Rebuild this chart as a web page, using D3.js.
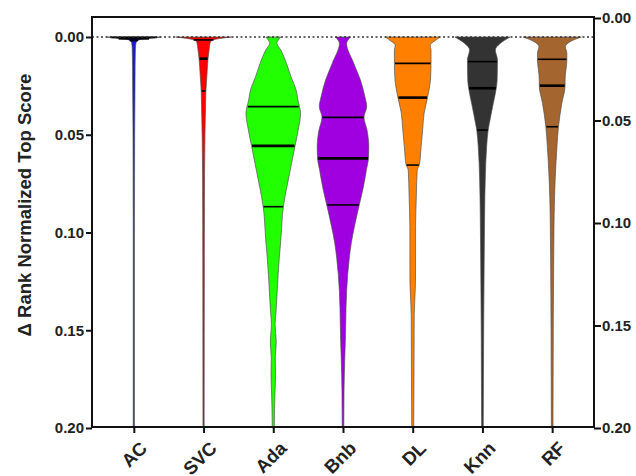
<!DOCTYPE html>
<html>
<head>
<meta charset="utf-8">
<script src="https://cdn.jsdelivr.net/npm/d3@7"></script>
<style>
  body { margin: 0; background: #fff; }
  svg text { font-family: "Liberation Sans", Arial, sans-serif; font-weight: bold; fill: #222; }
</style>
</head>
<body>
<svg id="chart" width="636" height="476"></svg>
<script>
/*
    Classifiers, colours and quartiles
*/
var categories = ["AC", "SVC", "Ada", "Bnb", "DL", "Knn", "RF"];
var colors = ["#1a1ad0", "#ff0000", "#22ff00", "#a000e0", "#ff8000", "#333333", "#a5652f"];
var q1 = [0.0002, 0.0015, 0.0356, 0.0411, 0.0135, 0.0126, 0.0114];
var medians = [0.0007, 0.0111, 0.0557, 0.0621, 0.031, 0.0262, 0.0249];
var q3 = [0.0018, 0.0276, 0.0868, 0.0859, 0.0655, 0.0476, 0.0459];
var yTicks = [0, 0.05, 0.10, 0.15, 0.20];
/*
    Density profiles: [score, relative density]
*/
var acProfile = [[0, 0.9], [0.0008, 0.47], [0.0015, 0.17], [0.003, 0.073], [0.006, 0.053],
    [0.015, 0.043], [0.03, 0.037], [0.05, 0.027], [0.1, 0.02], [0.2, 0.02]];
var svcProfile = [[0, 0.93], [0.0008, 0.53], [0.0018, 0.27], [0.003, 0.22], [0.006, 0.19],
    [0.011, 0.15], [0.015, 0.13], [0.02, 0.11], [0.028, 0.077], [0.035, 0.067], [0.05, 0.047],
    [0.07, 0.033], [0.1, 0.027], [0.2, 0.02]];
var adaProfile = [[0, 0.25], [0.0015, 0.17], [0.0032, 0.12], [0.0066, 0.25], [0.0135, 0.44],
    [0.0203, 0.59], [0.0271, 0.76], [0.0322, 0.82], [0.039, 0.91], [0.0476, 0.83], [0.0561, 0.72],
    [0.0646, 0.61], [0.0731, 0.5], [0.0817, 0.39], [0.0902, 0.31], [0.097, 0.28], [0.106, 0.24],
    [0.113, 0.2], [0.13, 0.13], [0.141, 0.09], [0.147, 0.06], [0.156, 0.1], [0.164, 0.067],
    [0.173, 0.075], [0.182, 0.057], [0.19, 0.043], [0.2, 0.033]];
var bnbProfile = [[0, 0.25], [0.0015, 0.17], [0.0032, 0.12], [0.0135, 0.36], [0.022, 0.58],
    [0.0305, 0.73], [0.0356, 0.79], [0.041, 0.7], [0.0476, 0.8], [0.056, 0.86], [0.062, 0.85],
    [0.068, 0.78], [0.0766, 0.68], [0.086, 0.54], [0.097, 0.38], [0.105, 0.28], [0.113, 0.21],
    [0.13, 0.12], [0.147, 0.09], [0.156, 0.077], [0.164, 0.06], [0.182, 0.033], [0.2, 0.027]];
var dlProfile = [[0, 0.92], [0.0024, 0.7], [0.0041, 0.58], [0.0066, 0.61], [0.0135, 0.61],
    [0.022, 0.59], [0.0305, 0.5], [0.039, 0.38], [0.0476, 0.33], [0.056, 0.28], [0.0655, 0.22],
    [0.068, 0.15], [0.0817, 0.12], [0.097, 0.095], [0.125, 0.093], [0.142, 0.05], [0.17, 0.043],
    [0.2, 0.033]];
var knnProfile = [[0, 0.92], [0.0032, 0.6], [0.0066, 0.43], [0.0118, 0.5], [0.022, 0.49],
    [0.0262, 0.46], [0.034, 0.36], [0.041, 0.27], [0.0476, 0.19], [0.056, 0.14], [0.073, 0.093],
    [0.09, 0.073], [0.0987, 0.067], [0.15, 0.04], [0.2, 0.027]];
var rfProfile = [[0, 0.97], [0.0024, 0.6], [0.005, 0.44], [0.0083, 0.49], [0.0114, 0.49],
    [0.022, 0.43], [0.0249, 0.43], [0.034, 0.32], [0.0459, 0.21], [0.056, 0.16], [0.073, 0.1],
    [0.09, 0.067], [0.0987, 0.06], [0.15, 0.037], [0.2, 0.027]];
var profiles = [acProfile, svcProfile, adaProfile, bnbProfile, dlProfile, knnProfile, rfProfile];

/*
    Layout
*/
var plotLeft = 92, plotRight = 594, plotTop = 17, plotBottom = 427;

var svg = d3.select("#chart");

var x = d3.scalePoint()
    .domain(categories)
    .range([plotLeft, plotRight])
    .padding(0.6);

var y = d3.scaleLinear().domain([0, 0.2]).range([37, 428]);
var yRight = d3.scaleLinear().domain([0, 0.2]).range([18, 428]);
var width = d3.scaleLinear().domain([0, 1]).range([0, 30]);

/*
    linear lookup of the density at a given score (for quartile lines)
*/
function densityAt(profile, s) {
    for (var i = 1; i < profile.length; i++) {
        if (s <= profile[i][0]) {
            var a = profile[i - 1], b = profile[i];
            var t = (s - a[0]) / (b[0] - a[0]);
            return a[1] + t * (b[1] - a[1]);
        }
    }
    return profile[profile.length - 1][1];
}

/*
    Violins
*/
var violins = svg.append("g").attr("class", "violins");
categories.forEach(function (c, i) {
    var cx = x(c);
    var area = d3.area()
        .curve(d3.curveMonotoneY)
        .y(function (d) { return y(d[0]); })
        .x0(function (d) { return cx - width(d[1]); })
        .x1(function (d) { return cx + width(d[1]); });

    violins.append("path")
        .datum(profiles[i])
        .attr("d", area)
        .attr("fill", colors[i])
        .attr("stroke", "#4a4a4a")
        .attr("stroke-width", 0.65);

    [[q1[i], 1.6], [medians[i], 2.6], [q3[i], 1.6]].forEach(function (q) {
        var hw = width(densityAt(profiles[i], q[0]));
        violins.append("line")
            .attr("x1", cx - hw + 0.5)
            .attr("x2", cx + hw - 0.5)
            .attr("y1", y(q[0]))
            .attr("y2", y(q[0]))
            .attr("stroke", "#000")
            .attr("stroke-width", q[1]);
    });
});

/*
    Dotted zero line
*/
svg.append("line")
    .attr("x1", plotLeft).attr("x2", plotRight)
    .attr("y1", y(0)).attr("y2", y(0))
    .attr("stroke", "#333")
    .attr("stroke-width", 1.6)
    .attr("stroke-dasharray", "2,2.5");

/*
    Frame
*/
svg.append("rect")
    .attr("x", plotLeft).attr("y", plotTop)
    .attr("width", plotRight - plotLeft)
    .attr("height", plotBottom - plotTop)
    .attr("fill", "none")
    .attr("stroke", "#111")
    .attr("stroke-width", 2);

/*
    Axes
*/
var leftAxis = d3.axisLeft(y).tickValues(yTicks).tickFormat(d3.format(".2f")).tickSize(6).tickPadding(2);
var gl = svg.append("g").attr("transform", "translate(" + plotLeft + ",0)").call(leftAxis);

var rightAxis = d3.axisRight(yRight).tickValues(yTicks).tickFormat(d3.format(".2f")).tickSize(7).tickPadding(1);
var gr = svg.append("g").attr("transform", "translate(" + plotRight + ",0)").call(rightAxis);

var bottomAxis = d3.axisBottom(x).tickSize(6).tickFormat("");
var gb = svg.append("g").attr("transform", "translate(0," + plotBottom + ")").call(bottomAxis);

[gl, gr, gb].forEach(function (g) {
    g.select(".domain").remove();
    g.selectAll(".tick line").attr("stroke", "#111").attr("stroke-width", 2);
    g.selectAll("text").attr("font-size", 15).attr("fill", "#222");
});

/*
    Rotated category labels, anchored at the upper right end
*/
svg.append("g")
    .attr("class", "xlabels")
    .selectAll("g")
    .data(categories)
    .enter()
    .append("g")
    .attr("transform", function (d) { return "translate(" + (x(d) + 5) + "," + (plotBottom + 13) + ") rotate(-45)"; })
    .append("text")
    .attr("text-anchor", "end")
    .attr("dy", "0.72em")
    .attr("font-size", 18.5)
    .text(function (d) { return d; });

/*
    Y title
*/
svg.append("text")
    .attr("transform", "translate(31,205) rotate(-90)")
    .attr("text-anchor", "middle")
    .attr("font-size", 18.5)
    .text("\u0394 Rank Normalized Top Score");
</script>
</body>
</html>
